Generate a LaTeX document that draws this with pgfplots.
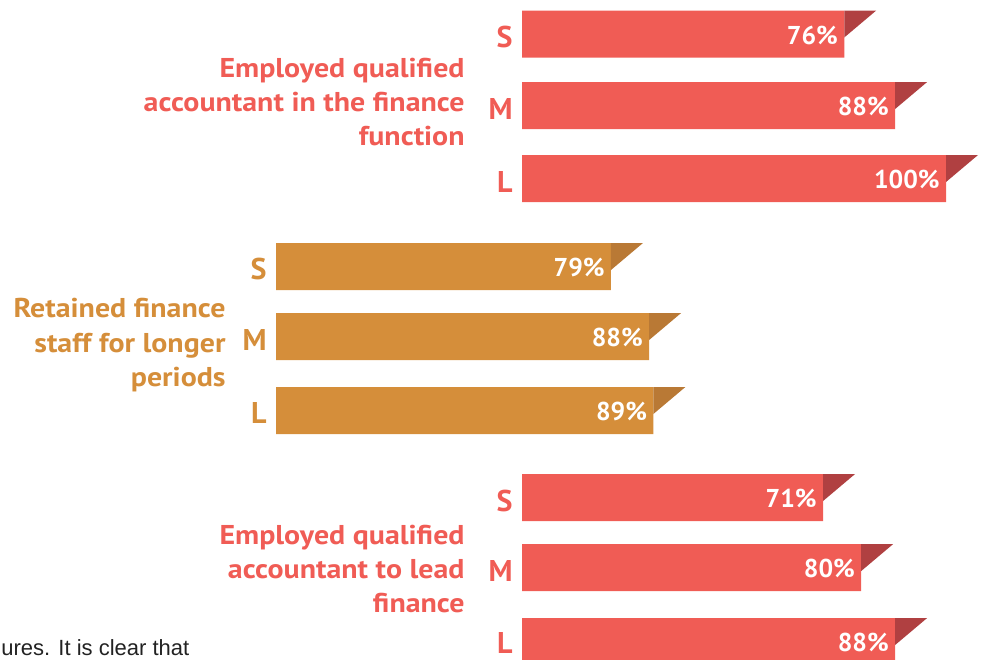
\documentclass[border=0pt]{standalone}
\usepackage{pgfplots}
\pgfplotsset{compat=1.18}
\usepackage{fontspec}
\setmainfont{PT Sans}
\newfontfamily\titlefont{PT Sans}[FakeStretch=1.1]
\newfontfamily\bodyfont{Liberation Sans}

\definecolor{barred}{HTML}{F05C55}
\definecolor{foldred}{HTML}{B04041}
\definecolor{barorange}{HTML}{D58E3A}
\definecolor{foldorange}{HTML}{B97935}
\definecolor{bodytext}{HTML}{222222}

% 1px of the reference = 0.5pt, 4.24px per percent point
\pgfplotsset{
  /pgf/number format/assume math mode=true,
  chart/.style={
    at={(0,0)}, anchor=south west,
    width=492pt, height=329.5pt, scale only axis,
    hide axis, clip mode=individual,
    ymin=0, ymax=659, y dir=reverse,
  },
  bars/.style={
    xbar, bar shift=0pt, bar width=47, draw=none, fill=#1,
    point meta=x,
    nodes near coords={\pgfmathprintnumber{\pgfplotspointmeta}\%},
    nodes near coords style={anchor=base east, inner sep=0pt, xshift=-3pt, yshift=-5pt,
      text=white, font=\bfseries\fontsize{12.9}{13}\selectfont},
  },
  fold/.style={draw=none, fill=#1},
}
\tikzset{
  size/.style={anchor=base east, inner sep=0pt, font=\bfseries\fontsize{15}{15}\selectfont},
  title/.style={anchor=base east, inner sep=0pt, font=\titlefont\bfseries\fontsize{13.6}{14}\selectfont},
}

\begin{document}
\begin{tikzpicture}
% red groups, bars start at pixel 522
\begin{axis}[chart, xmin=-123.113, xmax=108.962]
  % Employed qualified accountant in the finance function
  \addplot[bars=barred] coordinates {(76,34) (88,105.5) (100,178.5)};
  \addplot[fold=foldred] coordinates {(76,10.5) (83.55,10.5) (76,37.5)};
  \addplot[fold=foldred] coordinates {(88,82) (95.55,82) (88,109)};
  \addplot[fold=foldred] coordinates {(100,155) (107.55,155) (100,182)};
  % Employed qualified accountant to lead finance
  \addplot[bars=barred] coordinates {(71,497.5) (80,567.5) (88,641.5)};
  \addplot[fold=foldred] coordinates {(71,474) (78.55,474) (71,501)};
  \addplot[fold=foldred] coordinates {(80,544) (87.55,544) (80,571)};
  \addplot[fold=foldred] coordinates {(88,618) (95.55,618) (88,645)};

  \node[size, text=barred] at (axis cs:-2.12,47.5) {S};
  \node[size, text=barred] at (axis cs:-2.12,119) {M};
  \node[size, text=barred] at (axis cs:-2.12,192) {L};
  \node[title, text=barred] at (axis cs:-13.44,77) {Employed qualified};
  \node[title, text=barred] at (axis cs:-13.44,111.5) {accountant in the finance};
  \node[title, text=barred] at (axis cs:-13.44,145.5) {function};

  \node[size, text=barred] at (axis cs:-2.12,511) {S};
  \node[size, text=barred] at (axis cs:-2.12,581) {M};
  \node[size, text=barred] at (axis cs:-2.12,653) {L};
  \node[title, text=barred] at (axis cs:-13.44,544) {Employed qualified};
  \node[title, text=barred] at (axis cs:-13.44,578) {accountant to lead};
  \node[title, text=barred] at (axis cs:-13.44,612) {finance};

  \node[anchor=base west, inner sep=0pt, text=bodytext, font=\bodyfont\fontsize{11}{12}\selectfont]
    at (axis cs:-122.88,655) {ures. It is clear that};
\end{axis}
% orange group, bars start at pixel 276
\begin{axis}[chart, xmin=-65.094, xmax=166.981]
  % Retained finance staff for longer periods
  \addplot[bars=barorange] coordinates {(79,266.5) (88,336.5) (89,410.5)};
  \addplot[fold=foldorange] coordinates {(79,243) (86.55,243) (79,270)};
  \addplot[fold=foldorange] coordinates {(88,313) (95.55,313) (88,340)};
  \addplot[fold=foldorange] coordinates {(89,387) (96.55,387) (89,414)};

  \node[size, text=barorange] at (axis cs:-2.12,279) {S};
  \node[size, text=barorange] at (axis cs:-2.12,350) {M};
  \node[size, text=barorange] at (axis cs:-2.12,423) {L};
  \node[title, text=barorange] at (axis cs:-11.8,317) {Retained finance};
  \node[title, text=barorange] at (axis cs:-11.8,352) {staff for longer};
  \node[title, text=barorange] at (axis cs:-11.8,386) {periods};
\end{axis}
\pgfresetboundingbox
\path[use as bounding box] (0,0) rectangle (492pt,329.5pt);
\end{tikzpicture}
\end{document}
